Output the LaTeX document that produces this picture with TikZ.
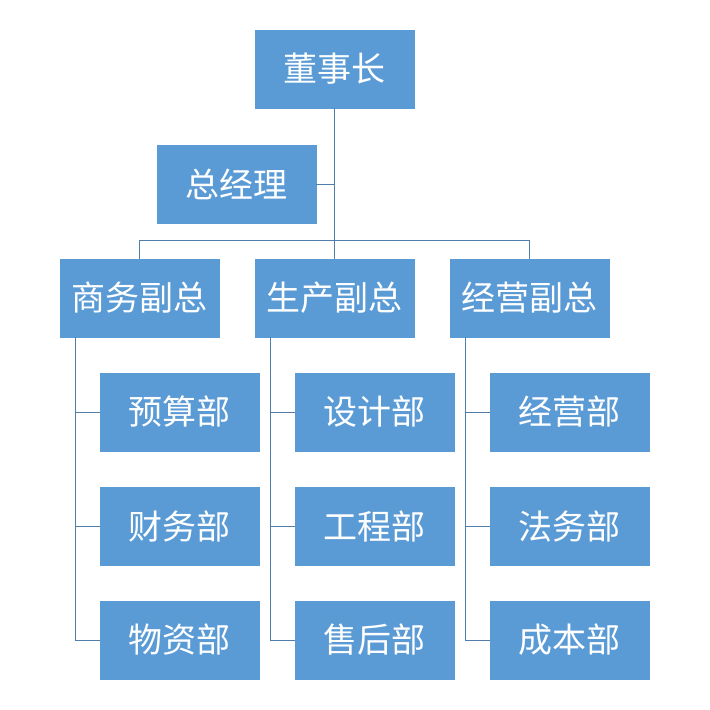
\documentclass[tikz,border=0pt]{standalone}
\usepackage{fontspec}
\setmainfont{Noto Sans CJK SC}
\begin{document}
\begin{tikzpicture}[x=1pt,y=-1pt,
 box/.style={fill={rgb,255:red,91;green,155;blue,213},draw={rgb,255:red,91;green,155;blue,213},text=white,minimum width=159pt,minimum height=78pt,inner sep=0pt,font=\fontsize{34}{36}\selectfont},
 ln/.style={draw={rgb,255:red,80;green,125;blue,170},line width=0.9pt}]
\useasboundingbox (0,0) rectangle (710,710);
\node[box] (ceo) at (334.5,69) {董事长};
\node[box] (gm) at (236.5,184) {总经理};
\node[box] (a) at (139.5,298) {商务副总};
\node[box] (b) at (334.5,298) {生产副总};
\node[box] (c) at (529.5,298) {经营副总};
\coordinate (j) at (334.5,240);
\coordinate (ja) at (139.5,240);
\coordinate (jc) at (529.5,240);
\draw[ln] (ceo.south) -- (j);
\draw[ln] (gm.east) -- (ceo.south |- gm.east);
\draw[ln] (ja) -- (jc);
\draw[ln] (ja) -- (a.north);
\draw[ln] (j) -- (b.north);
\draw[ln] (jc) -- (c.north);
\foreach \p/\x/\n/\t in {a/60/a1/预算部,a/60/a2/财务部,a/60/a3/物资部,b/255/b1/设计部,b/255/b2/工程部,b/255/b3/售后部,c/450/c1/经营部,c/450/c2/法务部,c/450/c3/成本部}{}
\foreach \p/\x/\la/\lb/\lc in {a/60/预算部/财务部/物资部,b/255/设计部/工程部/售后部,c/450/经营部/法务部/成本部}{
  \node[box] (\p1) at (\x+119.5,412) {\la};
  \node[box] (\p2) at (\x+119.5,526) {\lb};
  \node[box] (\p3) at (\x+119.5,640) {\lc};
  \coordinate (\p v) at (\x+15,337);
  \draw[ln] (\p v) |- (\p3.west);
  \draw[ln] (\p v |- \p1.west) -- (\p1.west);
  \draw[ln] (\p v |- \p2.west) -- (\p2.west);
}
\end{tikzpicture}
\end{document}
